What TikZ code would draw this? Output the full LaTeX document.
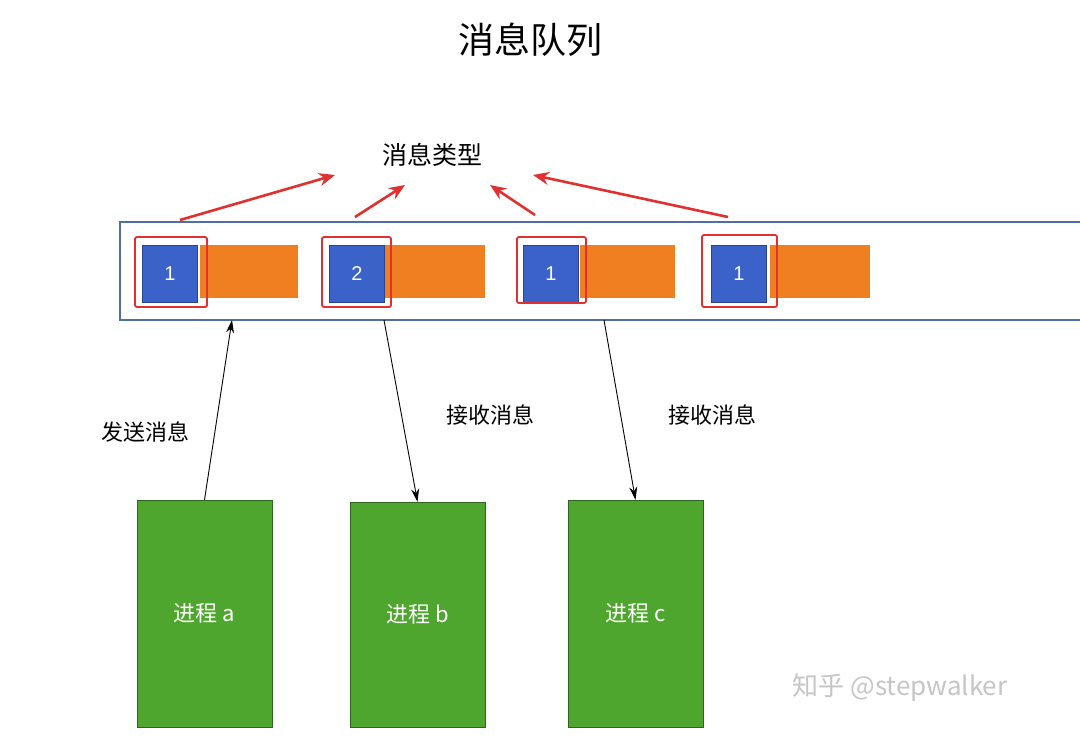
\documentclass[tikz,border=0pt]{standalone}
\usepackage{fontspec}
\setmainfont{Liberation Sans}
\newfontfamily\cjk{Noto Sans CJK SC}
\usetikzlibrary{arrows.meta}
\definecolor{qb}{HTML}{3A62C9}
\definecolor{qo}{HTML}{F07F22}
\definecolor{qg}{HTML}{4EA62E}
\definecolor{qr}{HTML}{E03030}
\definecolor{qe}{HTML}{4F6FA0}
\begin{document}
\begin{tikzpicture}[x=1pt,y=-1pt,
 blue/.style={draw=qb!70!black,fill=qb,minimum width=55pt,minimum height=57pt,inner sep=0pt,text=white,font=\fontsize{20}{24}\selectfont},
 frame/.style={draw=qr,line width=1.8pt,rounded corners=2pt},
 proc/.style={draw=qg!60!black,fill=qg,text=white,font=\cjk\fontsize{22}{26}\selectfont},
 red/.style={draw=qr,line width=2.6pt,-{Stealth[length=16pt,width=13pt]}},
 blk/.style={draw=black,line width=0.9pt,-{Stealth[length=13pt,width=8pt]}},
 lbl/.style={font=\cjk\fontsize{22}{26}\selectfont}]
\useasboundingbox (0,0) rectangle (1080,737);
\fill[white] (0,0) rectangle (1080,737);
\node[font=\cjk\fontsize{36}{42}\selectfont] (title) at (530,40) {消息队列};
\node[font=\cjk\fontsize{25}{30}\selectfont] (type) at (432,155) {消息类型};
\draw[qe,line width=1.2pt] (1082,222) -- (120,222) -- (120,320) -- (1082,320);
\fill[qo] (200,245) rectangle (298,298);
\fill[qo] (385,245) rectangle (485,298);
\fill[qo] (580,245) rectangle (675,298);
\fill[qo] (770,245) rectangle (870,298);
\node[blue] (c1) at (170,274) {1};
\node[blue] (c2) at (357,274) {2};
\node[blue] (c3) at (551,274) {1};
\node[blue] (c4) at (739,274) {1};
\draw[frame] (135,237) rectangle (207,307);
\draw[frame] (322,237) rectangle (391,307);
\draw[frame] (517,237) rectangle (586,303);
\draw[frame] (702,235) rectangle (777,307);
\coordinate (r1s) at (180,220); \coordinate (r1e) at (335,175);
\coordinate (r2s) at (355,217); \coordinate (r2e) at (405,185);
\coordinate (r3s) at (535,215); \coordinate (r3e) at (490,185);
\coordinate (r4s) at (728,217); \coordinate (r4e) at (533,175);
\draw[red] (r1s) -- (r1e);
\draw[red] (r2s) -- (r2e);
\draw[red] (r3s) -- (r3e);
\draw[red] (r4s) -- (r4e);
\node[proc,minimum width=135pt,minimum height=227pt] (pa) at (204.5,613.5) {进程 a};
\node[proc,minimum width=135pt,minimum height=225pt] (pb) at (417.5,614.5) {进程 b};
\node[proc,minimum width=135pt,minimum height=227pt] (pc) at (635.5,613.5) {进程 c};
\coordinate (qa) at (232,320); \coordinate (qb1) at (384,320); \coordinate (qc) at (604,320);
\draw[blk] (pa.north) -- (qa);
\draw[blk] (qb1) -- (pb.north);
\draw[blk] (qc) -- (pc.north);
\node[lbl] (l1) at (145,432) {发送消息};
\node[lbl] (l2) at (490,415) {接收消息};
\node[lbl] (l3) at (712,415) {接收消息};
\node[font=\cjk\fontsize{26}{30}\selectfont,text=gray!45] (wm) at (900,688) {知乎 @stepwalker};
\end{tikzpicture}
\end{document}
